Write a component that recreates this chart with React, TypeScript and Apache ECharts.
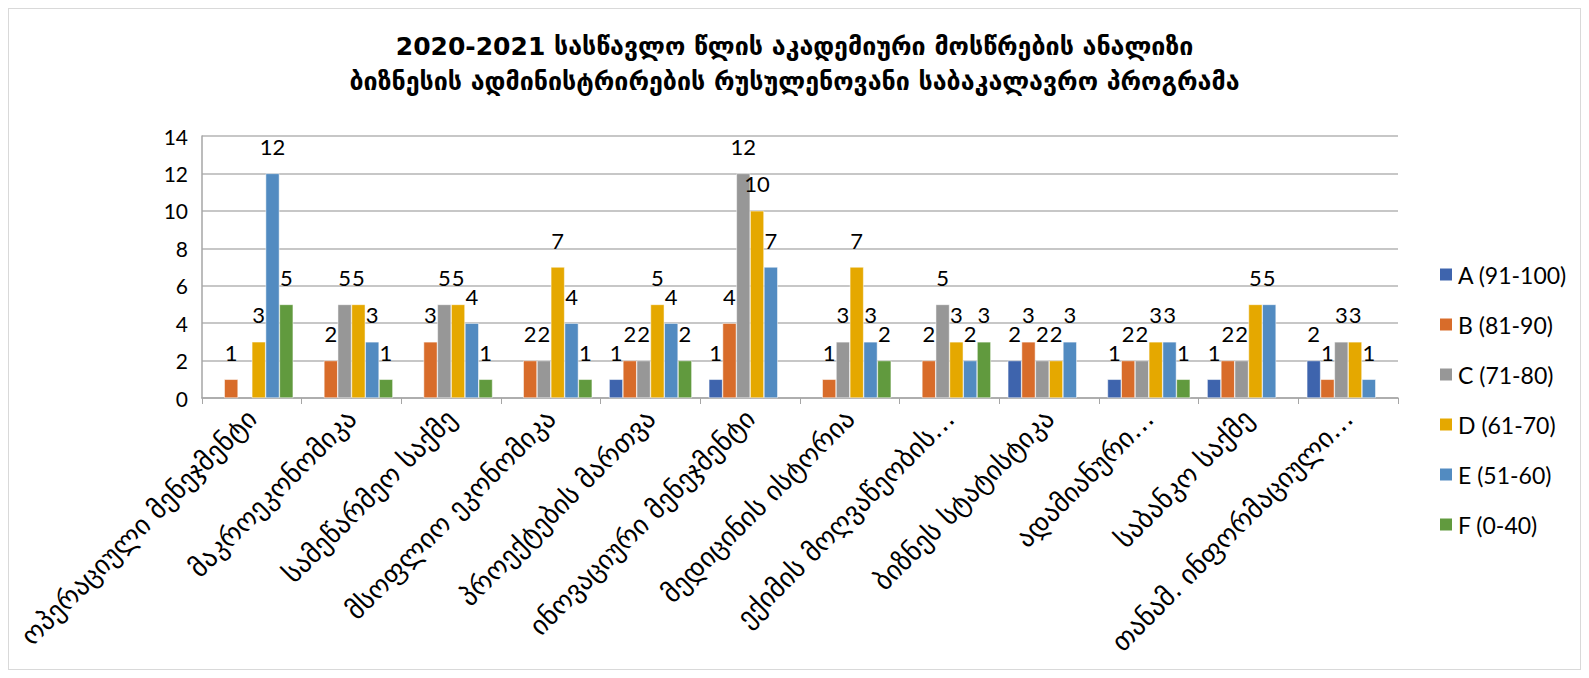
import React, { useEffect, useRef } from "react";
import * as echarts from "echarts";

const titleLines = [
  "2020-2021 სასწავლო წლის აკადემიური მოსწრების ანალიზი",
  "ბიზნესის ადმინისტრირების რუსულენოვანი საბაკალავრო პროგრამა",
];

const categories = [
  "ოპერაციული მენეჯმენტი",
  "მაკროეკონომიკა",
  "სამეწარმეო საქმე",
  "მსოფლიო ეკონომიკა",
  "პროექტების მართვა",
  "ინოვაციური მენეჯმენტი",
  "მედიცინის ისტორია",
  "ექიმის მოღვაწეობის…",
  "ბიზნეს სტატისტიკა",
  "ადამიანური…",
  "საბანკო საქმე",
  "თანამ. ინფორმაციული…",
];

const seriesNames = ["A (91-100)", "B (81-90)", "C (71-80)", "D (61-70)", "E (51-60)", "F (0-40)"];

const gradeA = [null, null, null, null, 1, 1, null, null, 2, 1, 1, 2];
const gradeB = [1, 2, 3, 2, 2, 4, 1, 2, 3, 2, 2, 1];
const gradeC = [null, 5, 5, 2, 2, 12, 3, 5, 2, 2, 2, 3];
const gradeD = [3, 5, 5, 7, 5, 10, 7, 3, 2, 3, 5, 3];
const gradeE = [12, 3, 4, 4, 4, 7, 3, 2, 3, 3, 5, 1];
const gradeF = [5, 1, 1, 1, 2, null, 2, 3, null, 1, null, null];

const seriesData = [gradeA, gradeB, gradeC, gradeD, gradeE, gradeF];
const colors = ["#3e64ad", "#d86c2a", "#979797", "#e5a800", "#528bc1", "#619a3e"];

const yTicks = { min: 0, max: 14, interval: 2 };

const FONT = "Lato, 'DejaVu Sans', sans-serif";

export default function App() {
  const ref = useRef<HTMLDivElement>(null);

  useEffect(() => {
    if (!ref.current) return;
    const chart = echarts.init(ref.current, undefined, { renderer: "svg" });
    chart.setOption({
      animation: false,
      backgroundColor: "#ffffff",
      color: colors,
      title: {
        text: titleLines.join("\n"),
        left: "center",
        top: 15,
        textStyle: {
          fontFamily: "'DejaVu Sans', sans-serif",
          fontSize: 25,
          fontWeight: "bold",
          color: "#000000",
          lineHeight: 35,
        },
      },
      legend: {
        orient: "vertical",
        left: 1424,
        top: 249,
        itemWidth: 14,
        itemHeight: 14,
        itemGap: 27,
        icon: "rect",
        textStyle: { fontFamily: FONT, fontSize: 23, color: "#000000" },
        data: seriesNames,
      },
      grid: { left: 193, right: 182, top: 127, bottom: 271, containLabel: false },
      xAxis: {
        type: "category",
        data: categories,
        axisLine: { lineStyle: { color: "#a6a6a6", width: 1.5 } },
        axisTick: { show: true, alignWithLabel: false, length: 6, lineStyle: { color: "#a6a6a6" } },
        axisLabel: {
          interval: 0,
          rotate: 45,
          margin: 16,
          fontFamily: "'DejaVu Sans', sans-serif",
          fontSize: 27,
          color: "#000000",
        },
      },
      yAxis: {
        type: "value",
        min: yTicks.min,
        max: yTicks.max,
        interval: yTicks.interval,
        axisLine: { show: true, lineStyle: { color: "#a6a6a6", width: 1.5 } },
        axisTick: { show: false },
        splitLine: { lineStyle: { color: "#b4b4b4", width: 1.5 } },
        axisLabel: { fontFamily: FONT, fontSize: 21, color: "#000000", margin: 14 },
      },
      series: seriesNames.map((name, i) => ({
        name,
        type: "bar",
        data: seriesData[i],
        barGap: "0%",
        barCategoryGap: "17%",
        itemStyle: { color: colors[i], borderColor: "#ffffff", borderWidth: 0.5 },
        label: {
          show: true,
          position: "top",
          distance: 16,
          fontFamily: FONT,
          fontSize: 22,
          color: "#000000",
        },
      })),
    });
    return () => chart.dispose();
  }, []);

  return (
    <div
      ref={ref}
      style={{
        width: 1573,
        height: 662,
        border: "1px solid #d9d9d9",
        boxSizing: "border-box",
      }}
    />
  );
}
